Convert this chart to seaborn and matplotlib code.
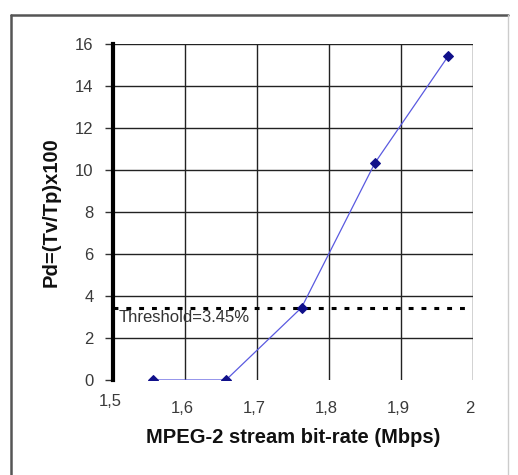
import numpy as np
import pandas as pd
import matplotlib
matplotlib.use('Agg')
import matplotlib.pyplot as plt
import matplotlib.transforms as mtransforms
import seaborn as sns
from matplotlib.lines import Line2D

# dados
bitrate = [1.555, 1.657, 1.762, 1.864, 1.966]
pd_val = [0.0, 0.0, 3.45, 10.35, 15.45]
threshold = 3.45
threshold_label = 'Threshold=3.45%'
x_ticks = [1.5, 1.6, 1.7, 1.8, 1.9, 2.0]
x_labels = ['1,5', '1,6', '1,7', '1,8', '1,9', '2']
y_ticks = [0, 2, 4, 6, 8, 10, 12, 14, 16]

df = pd.DataFrame({'bitrate': bitrate, 'pd': pd_val})

sns.set_style('white')
plt.rcParams['font.family'] = ['Liberation Sans', 'DejaVu Sans']

fig = plt.figure(figsize=(5.18, 4.75), dpi=100)
ax = fig.add_axes([0.218, 0.2, 0.695, 0.707])

# grade
for xt in x_ticks[1:]:
    ax.axvline(xt, color='#222222', lw=1.0, zorder=1)
for yt in y_ticks[1:]:
    ax.axhline(yt, color='#222222', lw=1.0, zorder=1)

# linha de limiar
ax.plot([x_ticks[0], 1.99], [threshold, threshold], color='black', lw=2.2,
        linestyle=(0, (1.6, 2.6)), zorder=2)
ax.text(1.508, threshold - 0.45, threshold_label, fontsize=12, color='#333333',
        va='center', ha='left', zorder=3)

sns.lineplot(data=df, x='bitrate', y='pd', ax=ax, color='#5a5ae0', lw=0.9,
             marker='D', markersize=5.5, markerfacecolor='#10108a',
             markeredgecolor='#10108a', zorder=4)

ax.set_xlim(1.5, 2.0)
ax.set_ylim(0, 16)
ax.set_xticks(x_ticks)
ax.set_xticklabels(x_labels)
ax.set_yticks(y_ticks)
ax.tick_params(axis='both', labelsize=12, labelcolor='#3a3a3a', colors='#333333')
ax.tick_params(axis='y', direction='out', length=6, width=1, left=True, pad=8)
ax.tick_params(axis='x', length=0, pad=15)

# rótulos do eixo x levemente deslocados (1,5 mais alto)
for i, lab in enumerate(ax.get_xticklabels()):
    dy = 5 / 72 if i == 0 else 0
    off = mtransforms.ScaledTranslation(-3 / 100, dy, fig.dpi_scale_trans)
    lab.set_transform(lab.get_transform() + off)

for s in ['top', 'right', 'bottom']:
    ax.spines[s].set_visible(False)
ax.spines['left'].set_linewidth(3)
ax.spines['left'].set_color('black')

ax.set_xlabel('MPEG-2 stream bit-rate (Mbps)', fontsize=14.5, fontweight='bold',
              color='#111111', labelpad=9)
ax.set_ylabel('Pd=(Tv/Tp)x100', fontsize=14.5, fontweight='bold',
              color='#111111', labelpad=10)

# moldura externa
fig.add_artist(Line2D([11/518, 508/518], [1 - 15/475, 1 - 15/475],
                      color='#555555', lw=1.8, transform=fig.transFigure))
fig.add_artist(Line2D([11/518, 11/518], [0, 1 - 15/475],
                      color='#555555', lw=1.8, transform=fig.transFigure))
fig.add_artist(Line2D([508/518, 508/518], [0, 1 - 15/475],
                      color='#cccccc', lw=1.0, transform=fig.transFigure))

fig.savefig('out.png', dpi=100)
